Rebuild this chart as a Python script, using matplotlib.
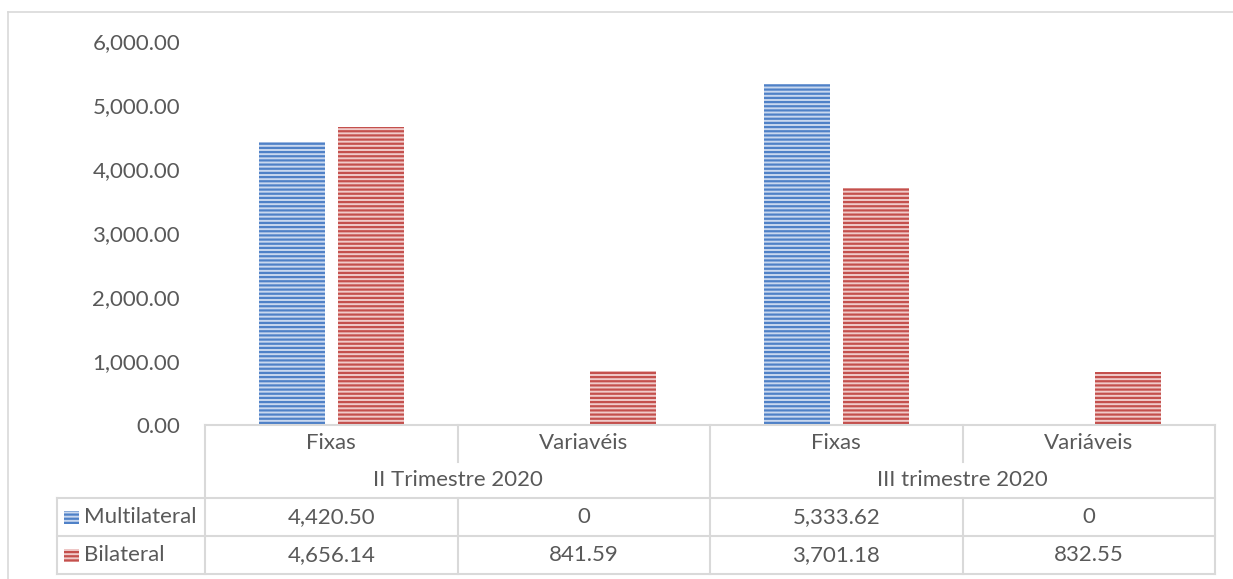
import numpy as np
import matplotlib
matplotlib.use("Agg")
import matplotlib.pyplot as plt
from matplotlib.lines import Line2D
from matplotlib.patches import Rectangle
from matplotlib.ticker import FuncFormatter
from matplotlib.transforms import blended_transform_factory

plt.rcParams['font.family'] = ['Lato', 'DejaVu Sans']
plt.rcParams['hatch.linewidth'] = 1.6

# Dados
categorias = ['Fixas', 'Variavéis', 'Fixas', 'Variáveis']
trimestres = ['II Trimestre 2020', 'III trimestre 2020']
series = ['Multilateral', 'Bilateral']
multilateral = [4420.50, 0, 5333.62, 0]
bilateral = [4656.14, 841.59, 3701.18, 832.55]

cor_texto = '#595959'
cor_linha = '#d9d9d9'
cores_face = ['#c9d8ef', '#f0cbca']
cores_risca = ['#4f81c7', '#c4504d']

W, H = 1233, 579
fig = plt.figure(figsize=(W / 100, H / 100), dpi=100)
ax = fig.add_axes([205 / W, 1 - 425 / H, 1010 / W, 384 / H])

x = np.arange(len(categorias))
larg = 0.262
desl = 0.157
for i, vals in enumerate([multilateral, bilateral]):
    ax.bar(x + (i * 2 - 1) * desl, vals, width=larg, color=cores_face[i],
           edgecolor=cores_risca[i], linewidth=0, hatch='----')

fs = 16

ax.set_xlim(-0.5, len(categorias) - 0.5)
ax.set_ylim(0, 6000)
ax.set_yticks(np.arange(0, 6001, 1000))
ax.yaxis.set_major_formatter(FuncFormatter(lambda v, p: f'{v:,.2f}'))
ax.tick_params(axis='y', length=0, pad=18, labelsize=fs, labelcolor=cor_texto)
ax.set_xticks([])
for s in ['left', 'right', 'top', 'bottom']:
    ax.spines[s].set_visible(False)

# Tabela de dados abaixo do eixo
tr = blended_transform_factory(ax.transData, ax.transAxes)
def yax(py):
    return (425 - py) / 384

x_esq = -0.5 - (203 - 55) / 252
x_dir = len(categorias) - 0.5
lw = 1.5

def linha(xs, ys):
    ax.add_line(Line2D(xs, ys, transform=tr, color=cor_linha, lw=lw, clip_on=False))

linha([-0.5, x_dir], [yax(425), yax(425)])
for py in [498, 536, 574]:
    linha([x_esq, x_dir], [yax(py), yax(py)])
for xv in [-0.5, 1.5, 3.5]:
    linha([xv, xv], [yax(425), yax(574)])
for xv in [0.5, 2.5]:
    linha([xv, xv], [yax(425), yax(462)])
    linha([xv, xv], [yax(498), yax(574)])
linha([x_esq, x_esq], [yax(498), yax(574)])

for i, c in enumerate(categorias):
    ax.text(i, yax(443), c, transform=tr, ha='center', va='center',
            fontsize=fs, color=cor_texto)
for j, t in enumerate(trimestres):
    ax.text(2 * j + 0.5, yax(480), t, transform=tr, ha='center', va='center',
            fontsize=fs, color=cor_texto)

def fmt(v):
    return '0' if v == 0 else f'{v:,.2f}'

linhas_y = [517, 555]
for k, (nome, vals) in enumerate(zip(series, [multilateral, bilateral])):
    yc = yax(linhas_y[k])
    ax.add_patch(Rectangle((x_esq + 7 / 252, yc - 7 / 384), 15 / 252, 13 / 384,
                           transform=tr, facecolor=cores_face[k],
                           edgecolor=cores_risca[k], linewidth=0,
                           hatch='----', clip_on=False))
    ax.text(x_esq + 27 / 252, yc, nome, transform=tr, ha='left', va='center',
            fontsize=fs, color=cor_texto)
    for i, v in enumerate(vals):
        ax.text(i, yc, fmt(v), transform=tr, ha='center', va='center',
                fontsize=fs, color=cor_texto)

# Moldura do gráfico
fig.add_artist(Line2D([8 / W, 8 / W], [1 - 12 / H, 0], transform=fig.transFigure,
                      color=cor_linha, lw=1.2))
fig.add_artist(Line2D([8 / W, 1], [1 - 12 / H, 1 - 12 / H], transform=fig.transFigure,
                      color=cor_linha, lw=1.2))

fig.savefig('out.png', dpi=100)
